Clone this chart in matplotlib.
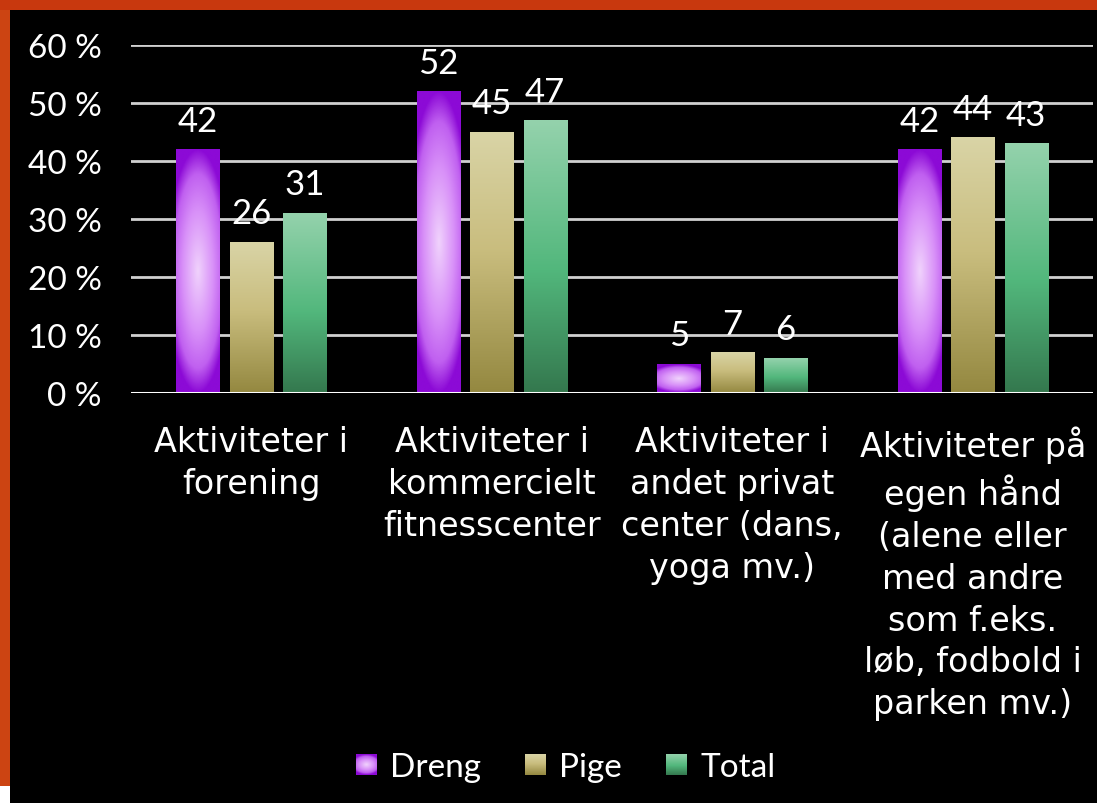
import numpy as np
import matplotlib
matplotlib.use("Agg")
import matplotlib.pyplot as plt
from matplotlib.colors import LinearSegmentedColormap
from matplotlib.patches import Patch, Rectangle
from matplotlib.legend_handler import HandlerBase
from matplotlib.image import BboxImage
from matplotlib.transforms import Bbox, TransformedBbox

# data
categories = ["Aktiviteter i\nforening",
              "Aktiviteter i\nkommercielt\nfitnesscenter",
              "Aktiviteter i\nandet privat\ncenter (dans,\nyoga mv.)",
              "Aktiviteter på\negen hånd\n(alene eller\nmed andre\nsom f.eks.\nløb, fodbold i\nparken mv.)"]
series_names = ["Dreng", "Pige", "Total"]
dreng = [42, 52, 5, 42]
pige = [26, 45, 7, 44]
total = [31, 47, 6, 43]
yticks = [0, 10, 20, 30, 40, 50, 60]

plt.rcParams['font.family'] = ['Lato', 'DejaVu Sans']

cm_dreng = LinearSegmentedColormap.from_list(
    "dreng", [(0, "#f0d2fc"), (0.5, "#d890f8"), (0.8, "#c060f0"), (1, "#8c0ad6")])
cm_pige = LinearSegmentedColormap.from_list(
    "pige", [(0, "#948840"), (0.55, "#c9bd7e"), (1, "#d9d4a6")])
cm_total = LinearSegmentedColormap.from_list(
    "total", [(0, "#34784e"), (0.45, "#52b77c"), (1, "#94d2ac")])


def radial_img(h_px, w_px=40):
    ys = np.linspace(-1, 1, max(int(h_px), 4))
    xs = np.linspace(-1, 1, w_px)
    X, Y = np.meshgrid(xs, ys)
    r = np.sqrt((0.7 * X) ** 2 + Y ** 2)
    r = np.clip(r, 0, 1)
    return cm_dreng(r)


def vert_img(cmap):
    v = np.linspace(1, 0, 200)[:, None] * np.ones((1, 10))
    return cmap(v)


fig = plt.figure(figsize=(10.97, 8.04), dpi=100)
fig.patch.set_facecolor("#cc4412")
fig.patches.append(Rectangle((10 / 1097, 0), 1, 1 - 11 / 804, transform=fig.transFigure,
                             facecolor="black", edgecolor="none", zorder=-5))
fig.patches.append(Rectangle((0, 0), 10 / 1097, 17 / 804, transform=fig.transFigure,
                             facecolor="white", edgecolor="none", zorder=-5))
fig.patches.append(Rectangle((0, 1 - 11 / 804), 1, 11 / 804, transform=fig.transFigure,
                             facecolor="#c8380e", edgecolor="none", zorder=-5))

ax = fig.add_axes([131 / 1097, 1 - 394 / 804, (1093 - 131) / 1097, (394 - 46) / 804])
ax.set_facecolor("none")

x = np.arange(len(categories))
w = 0.179
off = 0.222
px_per_unit = 348 / 60.0

for i, vals in enumerate([dreng, pige, total]):
    for j, v in enumerate(vals):
        xc = x[j] + (i - 1) * off
        if i == 0:
            img = radial_img(v * px_per_unit)
        elif i == 1:
            img = vert_img(cm_pige)
        else:
            img = vert_img(cm_total)
        ax.imshow(img, extent=[xc - w / 2, xc + w / 2, 0, v], origin="upper",
                  aspect="auto", interpolation="bilinear", zorder=3)
        ax.text(xc, v + 2.2, str(v), ha="center", va="bottom", color="white",
                fontsize=25, zorder=4)

ax.set_xlim(-0.5, len(categories) - 0.5)
ax.set_ylim(0, 60)
ax.set_yticks(yticks)
ax.set_yticklabels([f"{t} %" for t in yticks], color="white", fontsize=24)
ax.tick_params(axis="y", length=0, pad=21)
ax.set_xticks([])
for t in yticks[1:]:
    ax.axhline(t, color="#d0d0d0", lw=2, zorder=1)
ax.axhline(0, color="white", lw=2.2, zorder=5)
for s in ax.spines.values():
    s.set_visible(False)

for j, c in enumerate(categories):
    ax.text(x[j], -5.6, c, ha="center", va="top", color="white", fontsize=24,
            family="DejaVu Sans", linespacing=1.34, transform=ax.transData)


class GradHandler(HandlerBase):
    def __init__(self, img):
        super().__init__()
        self.img = img

    def create_artists(self, legend, orig_handle, xdescent, ydescent,
                       width, height, fontsize, trans):
        size = 15
        bb = Bbox.from_bounds(width - size, -ydescent + (height - size) / 2, size, size)
        im = BboxImage(TransformedBbox(bb, trans), interpolation="bilinear")
        im.set_data(self.img)
        return [im]


leg_imgs = [radial_img(40, 40), vert_img(cm_pige), vert_img(cm_total)]
handles = [Patch(label=n) for n in series_names]
hmap = {h: GradHandler(im) for h, im in zip(handles, leg_imgs)}
leg = fig.legend(handles=handles, handler_map=hmap, loc="center",
                 bbox_to_anchor=(565 / 1097, 1 - 768 / 804), ncol=3, frameon=False,
                 fontsize=24, labelcolor="white", handlelength=0.65,
                 handletextpad=0.4, columnspacing=1.3)

fig.savefig("out.png", dpi=100, facecolor=fig.get_facecolor())
